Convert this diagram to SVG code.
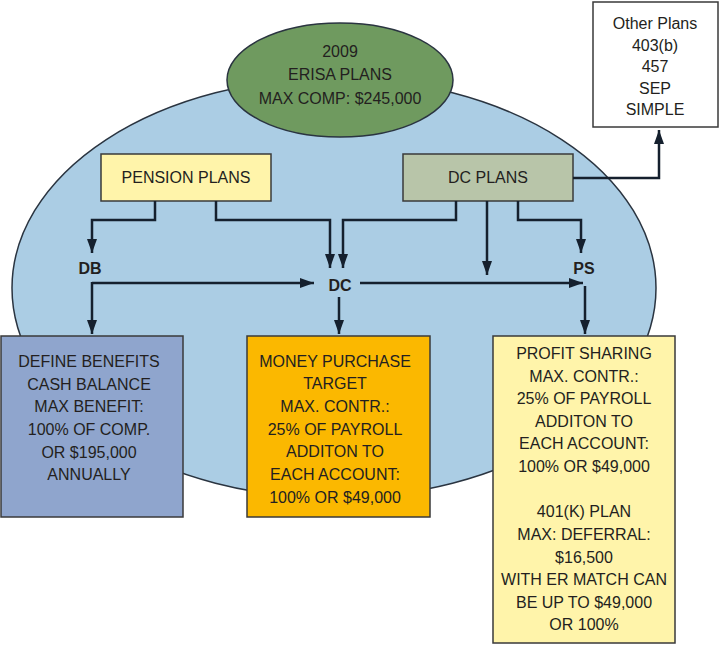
<svg xmlns="http://www.w3.org/2000/svg" width="720" height="645" viewBox="0 0 720 645">
<style>
text{font-family:"Liberation Sans",Arial,sans-serif;font-size:16px;fill:#231f20;text-anchor:middle}
.b{font-weight:bold}
.box{stroke:#3a3a3a;stroke-width:1.5}
.c{fill:none;stroke:#15202e;stroke-width:2.5}
</style>
<defs>
<marker id="ah" viewBox="0 0 14 10" refX="14" refY="5" markerWidth="14" markerHeight="10" markerUnits="userSpaceOnUse" orient="auto">
<path d="M0,0 L14,5 L0,10 Z" fill="#15202e"/>
</marker>
</defs>
<rect width="720" height="645" fill="#ffffff"/>
<g id="erisa-area">
<ellipse cx="334" cy="288" rx="322" ry="210" fill="#abcde4" stroke="#2a3440" stroke-width="1.5"/>
</g>
<g id="erisa-title">
<ellipse cx="340" cy="80" rx="113" ry="57" fill="#6f9a5f" stroke="#2a3440" stroke-width="1.5"/>
<text x="340" y="57">2009</text>
<text x="340" y="80">ERISA PLANS</text>
<text x="340" y="104">MAX COMP: $245,000</text>
</g>
<g id="other-plans">
<rect x="593" y="2" width="125" height="125" fill="#ffffff" class="box"/>
<text x="655" y="29">Other Plans</text>
<text x="655" y="50.5">403(b)</text>
<text x="655" y="72">457</text>
<text x="655" y="93.5">SEP</text>
<text x="655" y="115">SIMPLE</text>
</g>
<g id="pension-plans">
<rect x="101" y="154" width="170" height="47" fill="#fff4aa" class="box"/>
<text x="186" y="183">PENSION PLANS</text>
</g>
<g id="dc-plans">
<rect x="403" y="154" width="170" height="47" fill="#b8c5a9" class="box"/>
<text x="488" y="183">DC PLANS</text>
</g>
<g id="connectors">
<path class="c" d="M155,201 V220 H92 V253" marker-end="url(#ah)"/>
<path class="c" d="M216,201 V220 H330 V268" marker-end="url(#ah)"/>
<path class="c" d="M456,201 V220 H343 V268" marker-end="url(#ah)"/>
<path class="c" d="M487,201 V275" marker-end="url(#ah)"/>
<path class="c" d="M518,201 V220 H581 V253" marker-end="url(#ah)"/>
<path class="c" d="M92,283 H314" marker-end="url(#ah)"/>
<path class="c" d="M92,282 V334" marker-end="url(#ah)"/>
<path class="c" d="M360,283 H583" marker-end="url(#ah)"/>
<path class="c" d="M585,286 V334" marker-end="url(#ah)"/>
<path class="c" d="M339,297 V334" marker-end="url(#ah)"/>
<path class="c" d="M573,178 H659 V130" marker-end="url(#ah)"/>
</g>
<g id="db-label"><text class="b" x="90" y="274">DB</text></g>
<g id="dc-label"><text class="b" x="340" y="291">DC</text></g>
<g id="ps-label"><text class="b" x="584" y="274">PS</text></g>
<g id="define-benefits">
<rect x="1" y="336" width="182" height="181" fill="#8fa5cd" class="box"/>
<text x="89" y="367">DEFINE BENEFITS</text>
<text x="89" y="390">CASH BALANCE</text>
<text x="89" y="412">MAX BENEFIT:</text>
<text x="89" y="435">100% OF COMP.</text>
<text x="89" y="458">OR $195,000</text>
<text x="89" y="480">ANNUALLY</text>
</g>
<g id="money-purchase">
<rect x="247" y="336" width="183" height="181" fill="#fbb800" class="box"/>
<text x="335" y="367">MONEY PURCHASE</text>
<text x="335" y="389">TARGET</text>
<text x="335" y="412">MAX. CONTR.:</text>
<text x="335" y="435">25% OF PAYROLL</text>
<text x="335" y="457">ADDITON TO</text>
<text x="335" y="480">EACH ACCOUNT:</text>
<text x="335" y="503">100% OR $49,000</text>
</g>
<g id="profit-sharing">
<rect x="493" y="336" width="182" height="307" fill="#fff4aa" class="box"/>
<text x="584" y="359">PROFIT SHARING</text>
<text x="584" y="382">MAX. CONTR.:</text>
<text x="584" y="404">25% OF PAYROLL</text>
<text x="584" y="427">ADDITON TO</text>
<text x="584" y="449">EACH ACCOUNT:</text>
<text x="584" y="472">100% OR $49,000</text>
<text x="584" y="517">401(K) PLAN</text>
<text x="584" y="540">MAX: DEFERRAL:</text>
<text x="584" y="563">$16,500</text>
<text x="584" y="585">WITH ER MATCH CAN</text>
<text x="584" y="608">BE UP TO $49,000</text>
<text x="584" y="630">OR 100%</text>
</g>
</svg>
